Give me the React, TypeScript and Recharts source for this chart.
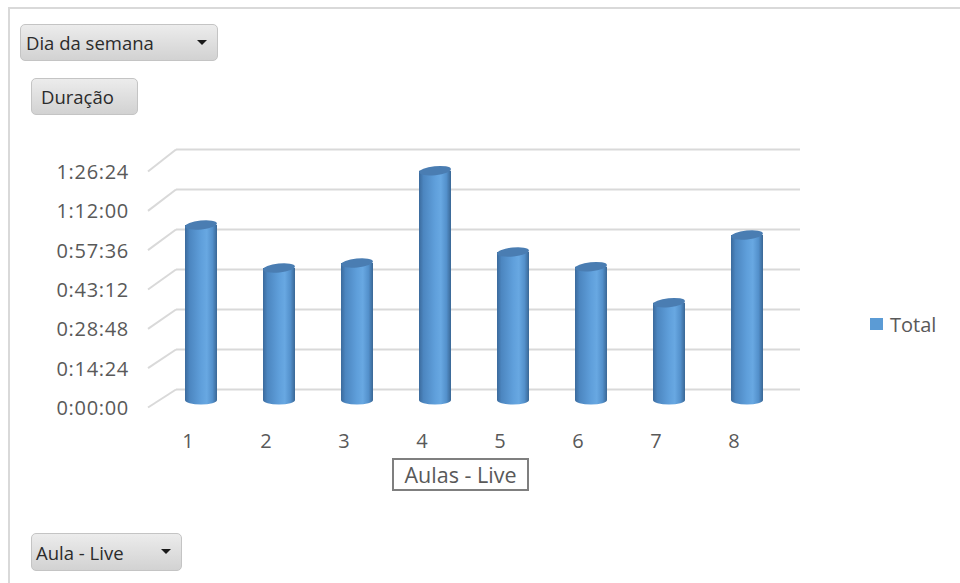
import React from "react";
import { BarChart, Bar, XAxis, YAxis, CartesianGrid, Legend } from "recharts";

const aulas = ["1", "2", "3", "4", "5", "6", "7", "8"];
const duracoes = ["1:03:00", "0:47:31", "0:49:19", "1:22:33", "0:53:17", "0:47:59", "0:35:02", "0:59:24"];
const yTicks = ["0:00:00", "0:14:24", "0:28:48", "0:43:12", "0:57:36", "1:12:00", "1:26:24"];
const seriesName = "Total";
const xAxisTitle = "Aulas - Live";
const filterTop = "Dia da semana";
const valueButton = "Duração";
const filterBottom = "Aula - Live";

const toSeconds = (s: string) => {
  const [h, m, sec] = s.split(":").map(Number);
  return h * 3600 + m * 60 + sec;
};
const fmt = (v: number) => {
  const h = Math.floor(v / 3600);
  const m = Math.floor((v % 3600) / 60);
  const s = Math.round(v % 60);
  return `${h}:${String(m).padStart(2, "0")}:${String(s).padStart(2, "0")}`;
};

const data = aulas.map((a, i) => ({ aula: a, total: toSeconds(duracoes[i]) }));
const tickValues = yTicks.map(toSeconds);

const FONT = "'Open Sans', sans-serif";
const TEXT = "#595959";
const BLUE = "#5B9BD5";

const frontOffset = (y: number) => 7.5 + ((400 - y) / 240) * 4;

const Cylinder = (props: any) => {
  const { x, y, width, height } = props;
  if (width == null || height == null) return null;
  const rx = width / 2;
  const ry = 4.5;
  const bottom = y + height;
  const d = `M ${x} ${y} L ${x} ${bottom} A ${rx} ${ry} 0 0 0 ${x + width} ${bottom} L ${x + width} ${y} Z`;
  return (
    <g>
      <path d={d} fill="url(#cylBody)" />
      <ellipse cx={x + rx} cy={y} rx={rx} ry={ry} fill="#4a7db2" transform={`rotate(-6 ${x + rx} ${y})`} />
    </g>
  );
};

const GridLine = (props: any) => {
  const { x1, x2, y1, index } = props;
  const back = y1 - 10.5;
  const front = y1 + frontOffset(y1);
  return (
    <g key={`g-${index}`}>
      <line x1={x1 + 14} x2={x2 + 14} y1={back} y2={back} stroke="#d9d9d9" strokeWidth={2} />
      <line x1={x1 - 14} y1={front} x2={x1 + 14} y2={back} stroke="#d9d9d9" strokeWidth={2} />
    </g>
  );
};

const YTick = (props: any) => {
  const { y, payload } = props;
  return (
    <text x={129} y={y + frontOffset(y)} textAnchor="end" dominantBaseline="central" fill={TEXT} fontSize={20} letterSpacing={0.7} fontFamily={FONT}>
      {fmt(payload.value)}
    </text>
  );
};

const XTick = (props: any) => {
  const { x, payload } = props;
  return (
    <text x={x - 13} y={440} textAnchor="middle" dominantBaseline="central" fill={TEXT} fontSize={20} fontFamily={FONT}>
      {payload.value}
    </text>
  );
};

const AxisTitle = (props: any) => {
  const vb = props.viewBox || { x: 162, width: 624 };
  const cx = vb.x + vb.width / 2 - 13.5;
  return (
    <g>
      <rect x={cx - 67.5} y={459} width={135} height={31} fill="#fff" stroke="#7f7f7f" strokeWidth={2} />
      <text x={cx} y={474.5} textAnchor="middle" dominantBaseline="central" fill={TEXT} fontSize={21.5} fontFamily={FONT}>
        {xAxisTitle}
      </text>
    </g>
  );
};

const LegendContent = (props: any) => {
  const items = props.payload || [];
  return (
    <div style={{ fontFamily: FONT }}>
      {items.map((it: any, i: number) => (
        <div key={i} style={{ display: "flex", alignItems: "center", height: 24 }}>
          <div style={{ width: 13, height: 12, background: BLUE, marginRight: 7 }} />
          <span style={{ fontSize: 20, color: TEXT }}>{it.value}</span>
        </div>
      ))}
    </div>
  );
};

const btnBase: React.CSSProperties = {
  position: "absolute",
  boxSizing: "border-box",
  border: "1px solid #c4c4c4",
  borderRadius: 5,
  background: "linear-gradient(#ececec, #d2d2d2)",
  fontFamily: FONT,
  fontSize: 18.5,
  color: "#2b2b2b",
  display: "flex",
  alignItems: "center",
  whiteSpace: "nowrap",
};

const Arrow = ({ left }: { left: number }) => (
  <div
    style={{
      position: "absolute",
      left,
      top: "50%",
      marginTop: -3,
      width: 0,
      height: 0,
      borderLeft: "5px solid transparent",
      borderRight: "5px solid transparent",
      borderTop: "5px solid #1a1a1a",
    }}
  />
);

export default function App() {
  return (
    <div style={{ position: "absolute", left: 0, top: 0, width: 960, height: 583, background: "#fff", overflow: "hidden" }}>
      <div style={{ position: "absolute", left: 8, top: 7, width: 952, height: 2, background: "#d9d9d9" }} />
      <div style={{ position: "absolute", left: 8, top: 7, width: 2, height: 576, background: "#d9d9d9" }} />

      <div style={{ position: "absolute", left: 0, top: 0 }}>
        <BarChart width={960} height={583} data={data} margin={{ top: 160, right: 174, left: 62, bottom: 143 }} barCategoryGap={0}>
          <defs>
            <linearGradient id="cylBody" x1="0" y1="0" x2="1" y2="0">
              <stop offset="0%" stopColor="#3b6a9c" />
              <stop offset="14%" stopColor="#4c86c0" />
              <stop offset="50%" stopColor="#5f9fdb" />
              <stop offset="68%" stopColor="#68a8e2" />
              <stop offset="86%" stopColor="#5390cb" />
              <stop offset="100%" stopColor="#3a6795" />
            </linearGradient>
          </defs>
          <CartesianGrid vertical={false} horizontal={(p: any) => <GridLine {...p} />} />
          <XAxis
            dataKey="aula"
            type="category"
            height={40}
            axisLine={false}
            tickLine={false}
            tick={<XTick />}
            interval={0}
            label={<AxisTitle />}
          />
          <YAxis
            type="number"
            width={100}
            domain={[tickValues[0], tickValues[tickValues.length - 1]]}
            ticks={tickValues}
            axisLine={false}
            tickLine={false}
            tick={<YTick />}
            interval={0}
          />
          <Legend
            layout="vertical"
            align="center"
            verticalAlign="middle"
            wrapperStyle={{ left: 870, top: 312, width: 90 }}
            content={<LegendContent />}
          />
          <Bar dataKey="total" name={seriesName} fill={BLUE} barSize={32} shape={<Cylinder />} isAnimationActive={false} />
        </BarChart>
      </div>

      <div style={{ ...btnBase, left: 20, top: 24, width: 198, height: 37, paddingLeft: 5 }}>
        {filterTop}
        <Arrow left={176} />
      </div>
      <div style={{ ...btnBase, left: 31, top: 78, width: 107, height: 37, paddingLeft: 9 }}>{valueButton}</div>
      <div style={{ ...btnBase, left: 31, top: 533, width: 151, height: 38, paddingLeft: 4 }}>
        {filterBottom}
        <Arrow left={129} />
      </div>
    </div>
  );
}
